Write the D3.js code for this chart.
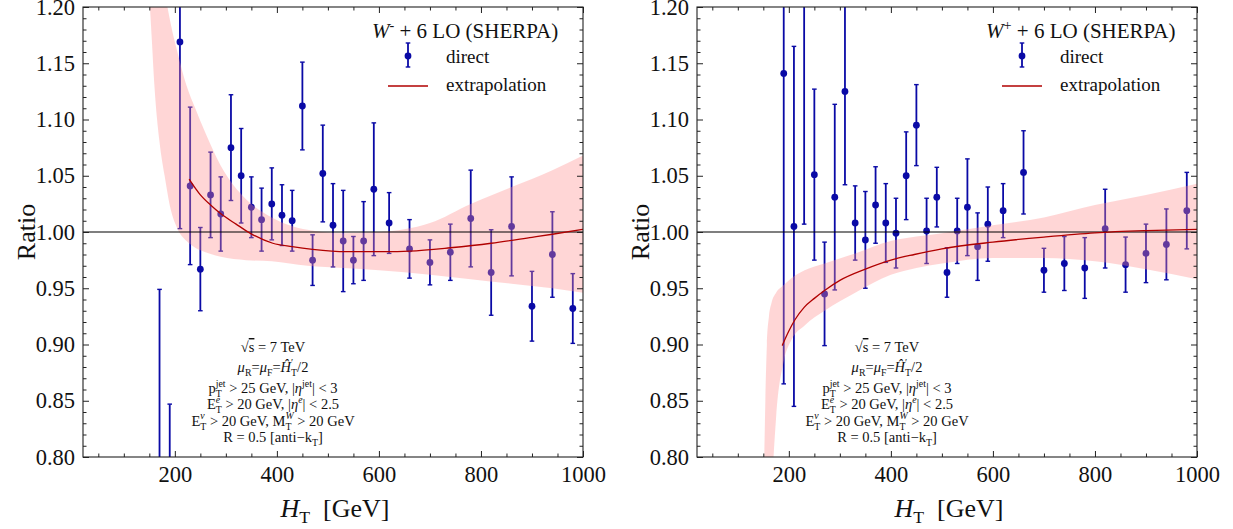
<!DOCTYPE html>
<html><head><meta charset="utf-8">
<script src="https://cdn.jsdelivr.net/npm/d3@7"></script>
<style>
body{margin:0;background:#fff}
svg{display:block}
text{font-family:"Liberation Serif","Times New Roman",serif;fill:#111}
</style>
</head><body>
<svg id="chart" width="1233" height="529"></svg>
<script>
// ---------------- DATA ----------------
const xTickValues = [200, 400, 600, 800, 1000];
const yTickValues = [0.80, 0.85, 0.90, 0.95, 1.00, 1.05, 1.10, 1.15, 1.20];

// W- + 6 jets : direct LO ratio points
const wmHT    = [170,190,210,230,250,270,290,310,330,350,370,390,410,430,450,470,490,510,530,550,570,590,620,660,700,740,780,820,860,900,940,980];
const wmRatio = [0.70,0.72,1.169,1.041,0.967,1.033,1.016,1.075,1.050,1.022,1.011,1.025,1.015,1.010,1.112,0.975,1.052,1.006,0.992,0.975,0.992,1.038,1.008,0.985,0.973,0.982,1.012,0.964,1.005,0.934,0.980,0.932];
const wmErr   = [0.249,0.127,0.166,0.070,0.037,0.038,0.033,0.047,0.042,0.027,0.028,0.032,0.027,0.027,0.039,0.0225,0.043,0.037,0.045,0.021,0.035,0.059,0.027,0.026,0.020,0.025,0.043,0.038,0.044,0.031,0.038,0.031];

// W- extrapolation curve and band
const wmCurveHT = [228,250,270,289,320,348,392,430,470,535,613,660,740,820,900,940,1000];
const wmCurve   = [1.047,1.033,1.024,1.0166,1.007,0.9988,0.990,0.987,0.9846,0.9825,0.9825,0.983,0.986,0.990,0.9953,0.998,1.0024];
const wmBandHT  = [150,155,160,170,180,192,205,223,240,260,290,340,390,460,530,600,700,780,860,940,1000];
const wmBandHi  = [1.36,1.33,1.30,1.25,1.215,1.185,1.16,1.13,1.11,1.088,1.059,1.029,1.013,1.002,0.999,1.000,1.008,1.025,1.040,1.055,1.068];
const wmBandLo  = [1.21,1.17,1.13,1.08,1.05,1.02,1.003,0.992,0.986,0.982,0.978,0.975,0.974,0.970,0.968,0.966,0.962,0.958,0.954,0.950,0.946];

// W+ + 6 jets : direct LO ratio points
const wpHT    = [190,210,230,250,270,290,310,330,350,370,390,410,430,450,470,490,510,530,550,570,590,620,660,700,740,780,820,860,900,940,980];
const wpRatio = [1.141,1.005,1.23,1.051,0.945,1.031,1.125,1.008,0.993,1.024,1.008,0.999,1.050,1.095,1.001,1.031,0.964,1.001,1.022,0.987,1.007,1.019,1.053,0.966,0.972,0.968,1.003,0.971,0.981,0.989,1.019];
const wpErr   = [0.276,0.160,0.223,0.076,0.046,0.0825,0.083,0.033,0.043,0.034,0.035,0.031,0.039,0.036,0.029,0.0265,0.022,0.029,0.043,0.030,0.033,0.024,0.037,0.0195,0.024,0.027,0.035,0.0245,0.026,0.0315,0.034];

// W+ extrapolation curve and band
const wpCurveHT = [187,200,212,230,250,270,300,350,400,446,500,600,700,800,900,1000];
const wpCurve   = [0.899,0.912,0.922,0.933,0.941,0.948,0.957,0.967,0.975,0.980,0.985,0.991,0.9955,0.9992,1.0012,1.0024];
const wpBandHT  = [152,154,157,161,166,175,190,205,231,270,330,400,450,500,600,700,800,900,1000];
const wpBandHi  = [0.80,0.85,0.90,0.925,0.937,0.946,0.953,0.959,0.966,0.972,0.981,0.992,0.996,0.999,1.006,1.013,1.024,1.033,1.043];
const wpBandLo  = [0.55,0.58,0.63,0.69,0.76,0.835,0.885,0.904,0.917,0.930,0.946,0.962,0.968,0.972,0.977,0.977,0.974,0.967,0.958];

// ---------------- DRAW ----------------
const svg = d3.select("#chart");
const PW = 500, TOP = 7, BOTTOM = 457;
const blue = "#0a0aa6", red = "#b00000";

// rich text helper (italic, sub, sup, stacked sub/sup, overline)
function rich(g, x, y, size, anchor, parts, opt){
  const o = Object.assign({sub: 0.28, sup: 0.42}, opt || {});
  const t = g.append("text").attr("x", x).attr("y", y)
    .attr("font-size", size).attr("text-anchor", anchor);
  let shift = 0, pendingDx = 0;
  const small = size*0.68;
  function add(txt, fs, target, italic){
    const ts = t.append("tspan").text(txt).attr("font-size", fs)
      .attr("dy", target - shift);
    if (italic) ts.attr("font-style", "italic");
    if (pendingDx) { ts.attr("dx", pendingDx); pendingDx = 0; }
    shift = target;
    return ts;
  }
  parts.forEach(p => {
    if (typeof p === "string") { add(p, size, 0, false); return; }
    if (p.i !== undefined) { add(p.i, size, 0, true); return; }
    if (p.ov !== undefined) { add(p.ov, size, 0, false).style("text-decoration", "overline"); return; }
    if (p.sub !== undefined && p.sup !== undefined) {
      const a = add(p.sub, small, size*o.sub, false);
      const wa = a.node().getComputedTextLength();
      const b = t.append("tspan").text(p.sup).attr("font-size", small)
        .attr("dy", -size*o.sup - shift).attr("dx", -wa);
      if (p.supI) b.attr("font-style", "italic");
      shift = -size*o.sup;
      const wb = b.node().getComputedTextLength();
      if (wa > wb) pendingDx = wa - wb;
      return;
    }
    if (p.sub !== undefined) { add(p.sub, small, size*o.sub, !!p.subI); return; }
    if (p.sup !== undefined) { add(p.sup, small, -size*o.sup, !!p.supI); return; }
  });
  return t;
}

function panel(cfg){
  const L = cfg.left, R = L + PW;
  const x = d3.scaleLinear().domain([20, 1000]).range([L, R]);
  const y = d3.scaleLinear().domain([0.80, 1.20]).range([BOTTOM, TOP]);
  const g = svg.append("g");
  const clipId = "clip" + cfg.id;
  svg.append("defs").append("clipPath").attr("id", clipId)
    .append("rect").attr("x", L).attr("y", TOP).attr("width", PW).attr("height", BOTTOM - TOP);
  const plot = g.append("g").attr("clip-path", `url(#${clipId})`);

  // error bars + points (under semi-transparent band)
  const pts = cfg.ht.map((h, i) => ({h, v: cfg.val[i], e: cfg.err[i]}));
  plot.append("g").selectAll("line").data(pts).join("line")
    .attr("x1", d => x(d.h)).attr("x2", d => x(d.h))
    .attr("y1", d => y(d.v - d.e)).attr("y2", d => y(d.v + d.e))
    .attr("stroke", blue).attr("stroke-width", 1.8);
  const caps = [];
  pts.forEach(d => { caps.push({h: d.h, v: d.v - d.e}); caps.push({h: d.h, v: d.v + d.e}); });
  plot.append("g").selectAll("line").data(caps).join("line")
    .attr("x1", d => x(d.h) - 2.3).attr("x2", d => x(d.h) + 2.3)
    .attr("y1", d => y(d.v)).attr("y2", d => y(d.v))
    .attr("stroke", blue).attr("stroke-width", 1.4);
  plot.append("g").selectAll("circle").data(pts).join("circle")
    .attr("cx", d => x(d.h)).attr("cy", d => y(d.v)).attr("r", 3.4)
    .attr("fill", blue);

  // band
  const band = cfg.bandHT.map((h, i) => ({h, lo: cfg.bandLo[i], hi: cfg.bandHi[i]}));
  plot.append("path").datum(band)
    .attr("d", d3.area().curve(d3.curveMonotoneX).x(d => x(d.h)).y0(d => y(d.lo)).y1(d => y(d.hi)))
    .attr("fill", "rgb(255,140,140)").attr("fill-opacity", 0.36);

  // reference line at 1
  plot.append("line").attr("x1", L).attr("x2", R).attr("y1", y(1)).attr("y2", y(1))
    .attr("stroke", "#000").attr("stroke-width", 1.2);

  // extrapolation curve
  const cv = cfg.curveHT.map((h, i) => ({h, v: cfg.curve[i]}));
  plot.append("path").datum(cv)
    .attr("d", d3.line().curve(d3.curveMonotoneX).x(d => x(d.h)).y(d => y(d.v)))
    .attr("fill", "none").attr("stroke", red).attr("stroke-width", 1.3);

  // axes (ticks inward)
  const xMinor = d3.range(50, 1001, 50).filter(v => v % 200 !== 0);
  const yMinor = d3.range(80, 121, 1).filter(v => v % 5 !== 0).map(v => v/100);
  const ax = g.append("g").attr("class", "axes");
  const style = sel => { sel.select(".domain").remove(); sel.selectAll("line").attr("stroke", "#222"); };
  ax.append("g").attr("transform", `translate(0,${BOTTOM})`)
    .call(d3.axisBottom(x).tickValues(xTickValues).tickSizeInner(-6).tickSizeOuter(0).tickPadding(9).tickFormat(d3.format("d")))
    .call(style).call(s => s.selectAll("text").attr("font-size", 22.5).attr("font-family", "Liberation Serif").attr("fill", "#111"));
  ax.append("g").attr("transform", `translate(0,${BOTTOM})`)
    .call(d3.axisBottom(x).tickValues(xMinor).tickSizeInner(-3.5).tickSizeOuter(0).tickFormat(""))
    .call(style);
  ax.append("g").attr("transform", `translate(0,${TOP})`)
    .call(d3.axisTop(x).tickValues(xTickValues).tickSizeInner(-6).tickSizeOuter(0).tickFormat(""))
    .call(style);
  ax.append("g").attr("transform", `translate(0,${TOP})`)
    .call(d3.axisTop(x).tickValues(xMinor).tickSizeInner(-3.5).tickSizeOuter(0).tickFormat(""))
    .call(style);
  ax.append("g").attr("transform", `translate(${L},0)`)
    .call(d3.axisLeft(y).tickValues(yTickValues).tickSizeInner(-6).tickSizeOuter(0).tickPadding(8).tickFormat(d3.format(".2f")))
    .call(style).call(s => s.selectAll("text").attr("font-size", 22.5).attr("font-family", "Liberation Serif").attr("fill", "#111"));
  ax.append("g").attr("transform", `translate(${L},0)`)
    .call(d3.axisLeft(y).tickValues(yMinor).tickSizeInner(-3.5).tickSizeOuter(0).tickFormat(""))
    .call(style);
  ax.append("g").attr("transform", `translate(${R},0)`)
    .call(d3.axisRight(y).tickValues(yTickValues).tickSizeInner(-6).tickSizeOuter(0).tickFormat(""))
    .call(style);
  ax.append("g").attr("transform", `translate(${R},0)`)
    .call(d3.axisRight(y).tickValues(yMinor).tickSizeInner(-3.5).tickSizeOuter(0).tickFormat(""))
    .call(style);
  g.append("rect").attr("x", L).attr("y", TOP).attr("width", PW).attr("height", BOTTOM - TOP)
    .attr("fill", "none").attr("stroke", "#222").attr("stroke-width", 1.1);

  // axis titles
  g.append("text").attr("transform", `translate(${L - 48},${(TOP + BOTTOM)/2}) rotate(-90)`)
    .attr("text-anchor", "middle").attr("font-size", 26).text("Ratio");
  rich(g, L + 252, 517, 26, "middle", [{i: "H"}, {sub: "T"}, "\u2002[GeV]"], {sub: 0.22});

  // title + legend
  rich(g, L + 289, 38, 21, "start", [{i: "W"}, {sup: cfg.sign}, " + 6 LO (SHERPA)"], {sup: 0.36});
  const lx = L + 325;
  g.append("line").attr("x1", lx).attr("x2", lx).attr("y1", 43).attr("y2", 67).attr("stroke", blue).attr("stroke-width", 1.8);
  g.append("line").attr("x1", lx - 2.3).attr("x2", lx + 2.3).attr("y1", 43).attr("y2", 43).attr("stroke", blue).attr("stroke-width", 1.4);
  g.append("line").attr("x1", lx - 2.3).attr("x2", lx + 2.3).attr("y1", 67).attr("y2", 67).attr("stroke", blue).attr("stroke-width", 1.4);
  g.append("circle").attr("cx", lx).attr("cy", 56).attr("r", 3.4).attr("fill", blue);
  g.append("text").attr("x", L + 363).attr("y", 63).attr("font-size", 19).text("direct");
  g.append("line").attr("x1", L + 305).attr("x2", L + 345).attr("y1", 86).attr("y2", 86).attr("stroke", red).attr("stroke-width", 1.3);
  g.append("text").attr("x", L + 363).attr("y", 91).attr("font-size", 19).text("extrapolation");

  // cuts annotation
  const cx = L + 190, fs = 14.5;
  rich(g, cx, 352, fs, "middle", ["\u221A", {ov: "s"}, " = 7 TeV"]);
  rich(g, cx, 372, fs, "middle", [{i: "\u03BC"}, {sub: "R"}, "=", {i: "\u03BC"}, {sub: "F"}, "=", {i: "\u0124"}, {sub: "T", sup: "\u2032"}, "/2"]);
  rich(g, cx, 393, fs, "middle", ["p", {sub: "T", sup: "jet"}, " > 25 GeV, |", {i: "\u03B7"}, {sup: "jet"}, "| < 3"]);
  rich(g, cx, 409, fs, "middle", ["E", {sub: "T", sup: "e", supI: true}, " > 20 GeV, |", {i: "\u03B7"}, {sup: "e", supI: true}, "| < 2.5"]);
  rich(g, cx, 425.5, fs, "middle", ["E", {sub: "T", sup: "\u03BD", supI: true}, " > 20 GeV, M", {sub: "T", sup: "W", supI: true}, " > 20 GeV"]);
  rich(g, cx, 442, fs, "middle", ["R = 0.5 [anti\u2212k", {sub: "T"}, "]"]);
}

panel({id: "m", left: 83, sign: "-", ht: wmHT, val: wmRatio, err: wmErr,
  curveHT: wmCurveHT, curve: wmCurve, bandHT: wmBandHT, bandLo: wmBandLo, bandHi: wmBandHi});
panel({id: "p", left: 697, sign: "+", ht: wpHT, val: wpRatio, err: wpErr,
  curveHT: wpCurveHT, curve: wpCurve, bandHT: wpBandHT, bandLo: wpBandLo, bandHi: wpBandHi});
</script>
</body></html>
